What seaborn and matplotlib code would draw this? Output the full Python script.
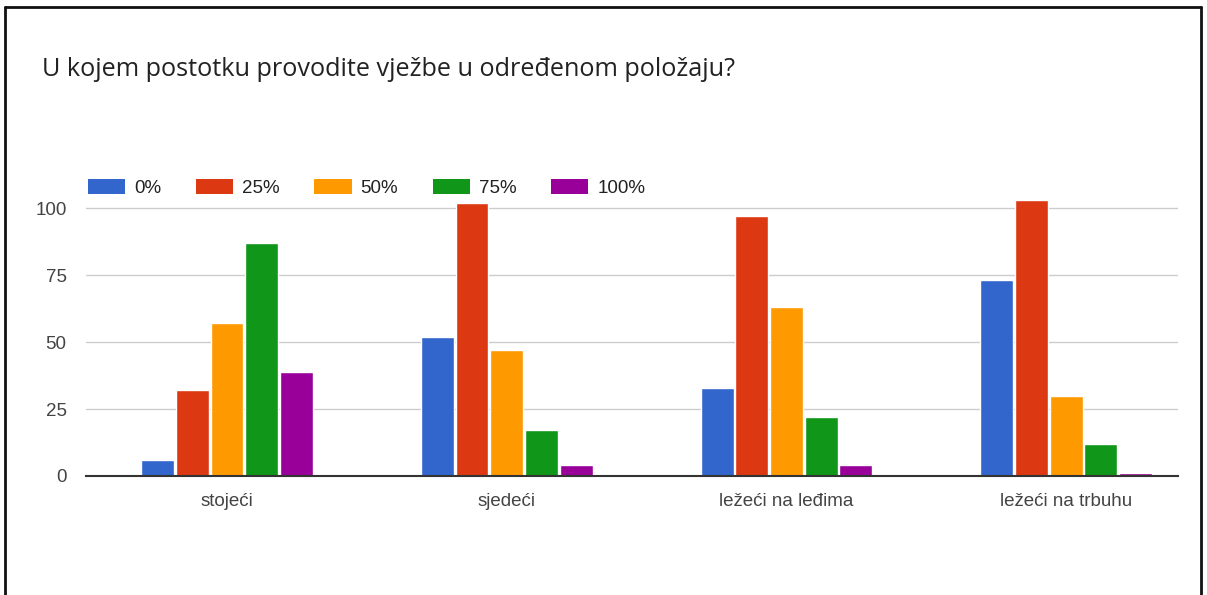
import numpy as np
import pandas as pd
import matplotlib
matplotlib.use("Agg")
import matplotlib.pyplot as plt
import seaborn as sns
from matplotlib.patches import Patch
from matplotlib.lines import Line2D

# =========================
# Data
# =========================
categories = ["stojeći", "sjedeći", "ležeći na leđima", "ležeći na trbuhu"]
series_names = ["0%", "25%", "50%", "75%", "100%"]
v0 = [6, 52, 33, 73]
v25 = [32, 102, 97, 103]
v50 = [57, 47, 63, 30]
v75 = [87, 17, 22, 12]
v100 = [39, 4, 4, 1]
colors = ["#3366CC", "#DC3912", "#FF9900", "#109618", "#990099"]
y_ticks = [0, 25, 50, 75, 100]

rows = []
for name, vals in zip(series_names, [v0, v25, v50, v75, v100]):
    for cat, v in zip(categories, vals):
        rows.append({"kategorija": cat, "odgovor": name, "broj": v})
df = pd.DataFrame(rows)

# =========================
# Plot
# =========================
sns.set_style("white")
plt.rcParams["font.family"] = ["Liberation Sans", "DejaVu Sans"]

W, H = 1207, 595
fig = plt.figure(figsize=(W / 100, H / 100), dpi=100)
ax = fig.add_axes([86 / W, 1 - 476 / H, (1178 - 86) / W, 284 / H])

sns.barplot(
    data=df, x="kategorija", y="broj", hue="odgovor",
    order=categories, hue_order=series_names, palette=colors,
    width=0.62, gap=0.05, saturation=1, legend=False, ax=ax,
)

ax.set_xlim(-0.504, 3.40)
ax.set_ylim(0, 106)
ax.set_yticks(y_ticks)
ax.set_xlabel("")
ax.set_ylabel("")
ax.yaxis.grid(True, color="#cccccc", linewidth=1)
ax.set_axisbelow(True)
for s in ["top", "right", "left"]:
    ax.spines[s].set_visible(False)
ax.spines["bottom"].set_color("#333333")
ax.spines["bottom"].set_linewidth(1.5)
ax.tick_params(axis="both", length=0, labelsize=13.5, labelcolor="#444444")
ax.tick_params(axis="y", pad=14)
ax.tick_params(axis="x", pad=12)

# legend
handles = [Patch(facecolor=c, edgecolor="none") for c in colors]
fig.legend(
    handles, series_names, loc="center left",
    bbox_to_anchor=(88 / W, 1 - 188 / H), ncol=5, frameon=False,
    fontsize=13.5, handlelength=1.98, handleheight=0.9, handletextpad=0.48,
    columnspacing=1.85, borderpad=0, borderaxespad=0, labelcolor="#222222",
)

# title
fig.text(42 / W, 1 - 70 / H, "U kojem postotku provodite vježbe u određenom položaju?",
         fontsize=18.2, color="#222222", va="center", ha="left",
         family=["Open Sans", "DejaVu Sans"])

# frame around the image
lw = 2
fig.add_artist(Line2D([5 / W, 5 / W], [0, 1 - 7 / H], color="#111111", lw=lw, transform=fig.transFigure))
fig.add_artist(Line2D([5 / W, 1201 / W], [1 - 7 / H, 1 - 7 / H], color="#111111", lw=lw, transform=fig.transFigure))
fig.add_artist(Line2D([1201 / W, 1201 / W], [0, 1 - 7 / H], color="#111111", lw=lw, transform=fig.transFigure))

fig.savefig("out.png", dpi=100)
